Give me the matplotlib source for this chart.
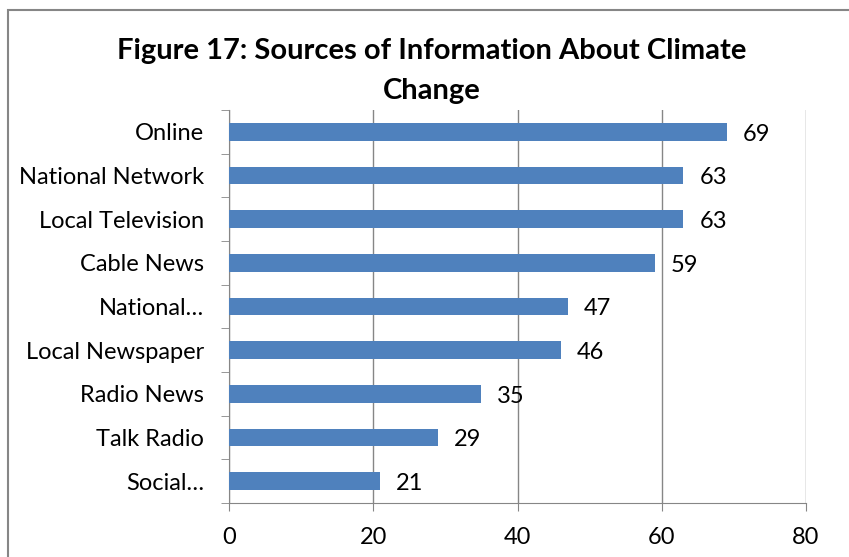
import matplotlib.pyplot as plt
from matplotlib.patches import Rectangle

categories = ['Online', 'National Network', 'Local Television', 'Cable News',
              'National…', 'Local Newspaper', 'Radio News', 'Talk Radio', 'Social…']
values = [69, 63, 63, 59, 47, 46, 35, 29, 21]
x_ticks = [0, 20, 40, 60, 80]

plt.rcParams['font.family'] = ['Lato', 'DejaVu Sans']

fig = plt.figure(figsize=(8.49, 5.57), dpi=100)
ax = fig.add_axes([229 / 849, 1 - 503 / 557, 577 / 849, 393 / 557])

pos = list(range(len(categories)))[::-1]
ax.barh(pos, values, height=0.4, color='#4F81BD', zorder=3)
for p, v in zip(pos, values):
    ax.text(v + 2.2, p - 0.05, str(v), va='center', ha='left', fontsize=17, zorder=4)

ax.set_xlim(0, 80)
ax.set_ylim(-0.5, len(categories) - 0.5)
ax.set_xticks(x_ticks)
ax.set_yticks(pos)
ax.set_yticklabels(categories, fontsize=17)
ax.set_yticks([i - 0.5 for i in range(len(categories) + 1)], minor=True)
ax.tick_params(axis='y', which='major', length=0, pad=18)
ax.tick_params(axis='y', which='minor', length=6, color='#868686', direction='out')
ax.tick_params(axis='x', length=6, color='#868686', labelsize=17, pad=11)

ax.grid(axis='x', color='#868686', linewidth=1, zorder=0)
for side in ['top', 'right']:
    ax.spines[side].set_visible(False)
for side in ['left', 'bottom']:
    ax.spines[side].set_color('#868686')

fig.text(432 / 849, 1 - 51 / 557, 'Figure 17: Sources of Information About Climate',
         ha='center', va='center', fontsize=21, fontweight='bold')
fig.text(432 / 849, 1 - 91 / 557, 'Change',
         ha='center', va='center', fontsize=21, fontweight='bold')

fig.patches.append(Rectangle((8 / 849, -0.1), 1.2, 1 - 10 / 557 + 0.1,
                             transform=fig.transFigure, fill=False,
                             edgecolor='#868686', linewidth=1.5))

fig.savefig('out.png', dpi=100)
